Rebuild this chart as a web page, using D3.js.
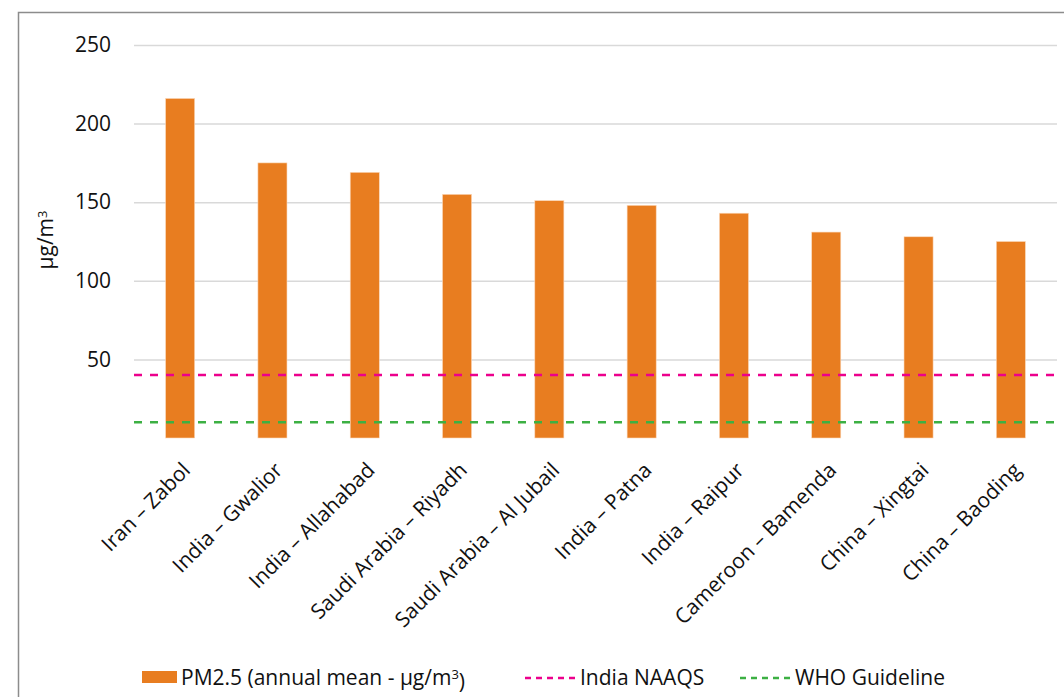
<!DOCTYPE html>
<html>
<head>
<meta charset="utf-8">
<script src="https://cdn.jsdelivr.net/npm/d3@7"></script>
<style>
  body { margin: 0; background: #fff; }
  text { font-family: "Open Sans", "Noto Sans", sans-serif; fill: #111; }
</style>
</head>
<body>
<svg></svg>
<script>
const width = 1064;
const height = 697;

const cities = ['Iran – Zabol', 'India – Gwalior', 'India – Allahabad', 'Saudi Arabia – Riyadh',
  'Saudi Arabia – Al Jubail', 'India – Patna', 'India – Raipur', 'Cameroon – Bamenda',
  'China – Xingtai', 'China – Baoding'];
const pm25 = [216, 175, 169, 155, 151, 148, 143, 131, 128, 125];
const indiaNaaqs = 40;
const whoGuideline = 10;
const yTicks = [50, 100, 150, 200, 250];

const svg = d3.select('svg')
  .attr('width', width)
  .attr('height', height);

// outer frame (runs off the right / bottom edge like the source)
svg.append('rect')
  .attr('x', 18.5).attr('y', 12.5)
  .attr('width', 1100).attr('height', 720)
  .attr('fill', 'none')
  .attr('stroke', '#8c8c8c')
  .attr('stroke-width', 1.5);

const xScale = d3.scaleBand()
  .domain(cities)
  .range([134, 1057])
  .paddingInner(0.685)
  .paddingOuter(0.3425);

const yScale = d3.scaleLinear()
  .domain([0, 250])
  .range([438, 45]);

const yAxis = d3.axisLeft(yScale)
  .tickValues(yTicks)
  .tickSize(-(1057 - 134))
  .tickPadding(23);

const gy = svg.append('g')
  .attr('transform', 'translate(134,0)')
  .call(yAxis);
gy.select('.domain').remove();
gy.selectAll('.tick line').attr('stroke', '#d9d9d9').attr('stroke-width', 1.5);
gy.selectAll('.tick text').style('font-size', '21px').attr('fill', '#111');

svg.selectAll('rect.bar')
  .data(pm25)
  .enter()
  .append('rect')
    .attr('class', 'bar')
    .attr('x', (d, i) => xScale(cities[i]))
    .attr('y', d => yScale(d))
    .attr('width', xScale.bandwidth())
    .attr('height', d => yScale(0) - yScale(d))
    .attr('fill', '#e87d20')
    .attr('stroke', '#fbd9bb')
    .attr('stroke-width', 0.6);

const refLines = [
  {value: indiaNaaqs, color: '#ec008c', name: 'India NAAQS'},
  {value: whoGuideline, color: '#3cb043', name: 'WHO Guideline'}
];

svg.selectAll('line.ref')
  .data(refLines)
  .enter()
  .append('line')
    .attr('class', 'ref')
    .attr('x1', 134)
    .attr('x2', 1060)
    .attr('y1', d => yScale(d.value))
    .attr('y2', d => yScale(d.value))
    .attr('stroke', d => d.color)
    .attr('stroke-width', 2.5)
    .attr('stroke-dasharray', '8,8');

// category labels
svg.selectAll('text.cat')
  .data(cities)
  .enter()
  .append('text')
    .attr('class', 'cat')
    .attr('transform', d => `translate(${xScale(d) + xScale.bandwidth() / 2 + 1}, 461) rotate(-45)`)
    .attr('text-anchor', 'end')
    .attr('dy', '0.7em')
    .style('font-size', '21px')
    .text(d => d);

// y axis title
const yTitle = svg.append('text')
  .attr('transform', 'translate(53, 240) rotate(-90)')
  .attr('text-anchor', 'middle')
  .style('font-size', '21px');
yTitle.append('tspan').text('µg/m');
yTitle.append('tspan').attr('dy', '-0.45em').style('font-size', '13px').text('3');

// legend
const legend = svg.append('g');
legend.append('rect')
  .attr('x', 142).attr('y', 671)
  .attr('width', 35).attr('height', 12)
  .attr('fill', '#e87d20');
const lt = legend.append('text')
  .attr('x', 181).attr('y', 685)
  .style('font-size', '21px');
lt.append('tspan').text('PM2.5 (annual mean - µg/m');
lt.append('tspan').attr('dy', '-0.45em').style('font-size', '13px').text('3');
lt.append('tspan').attr('dy', '0.45em').text(')');

const legendX = [525, 740];
refLines.forEach((d, i) => {
  legend.append('line')
    .attr('x1', legendX[i]).attr('x2', legendX[i] + 51)
    .attr('y1', 678).attr('y2', 678)
    .attr('stroke', d.color)
    .attr('stroke-width', 2.5)
    .attr('stroke-dasharray', '6,5');
  legend.append('text')
    .attr('x', legendX[i] + 55).attr('y', 685)
    .style('font-size', '21px')
    .text(d.name);
});
</script>
</body>
</html>
